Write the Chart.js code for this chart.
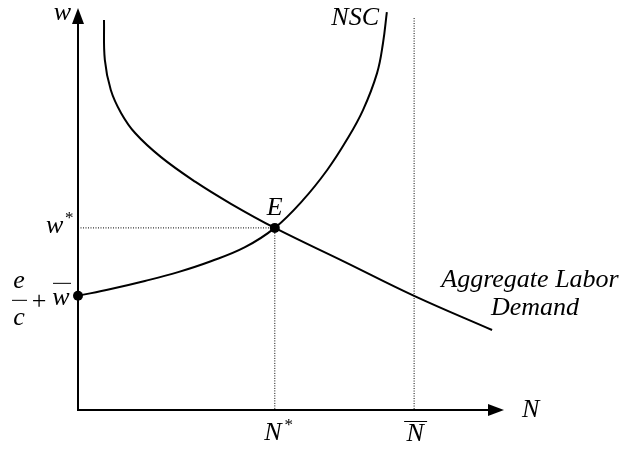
<!DOCTYPE html>
<html>
<head>
<meta charset="utf-8">
<script src="https://cdn.jsdelivr.net/npm/chart.js@4"></script>
<style>
  html, body { margin: 0; padding: 0; background: #fff; }
  #wrap { width: 621px; height: 449px; }
</style>
</head>
<body>
<div id="wrap"><canvas id="chart" width="621" height="449"></canvas></div>
<script>
// ======= Data =======
// aggregate labor demand: employment N vs wage w
const demandN = [0.61, 0.63, 0.77, 1.01, 1.34, 1.95, 2.75, 3.59, 4.62, 6.27, 7.89, 9.72];
const demandW = [9.70, 8.71, 7.96, 7.39, 6.89, 6.29, 5.68, 5.13, 4.53, 3.68, 2.84, 1.99];

// no-shirking condition
const nscN = [0, 0.77, 1.57, 2.35, 3.12, 3.92, 4.62, 5.28, 5.85, 6.31, 6.69, 7.02, 7.16, 7.25];
const nscW = [2.84, 3.01, 3.21, 3.43, 3.70, 4.05, 4.53, 5.22, 5.97, 6.72, 7.46, 8.38, 9.13, 9.90];

const eqN = 4.62;        // N*
const eqW = 4.53;        // w*
const wFloor = 2.84;     // e/c + w-bar
const laborForce = 7.89; // N-bar
const guideTop = 9.75;

const axisMaxN = 10;
const axisMaxW = 10;

const pts = (xs, ys) => xs.map((x, i) => ({ x, y: ys[i] }));

const FONT = "italic 26px 'Liberation Serif', 'Times New Roman', serif";
const PLAIN = "26px 'Liberation Serif', 'Times New Roman', serif";
const STAR = "17px 'Liberation Serif', 'Times New Roman', serif";

// ======= Axes + labels =======
const diagram = {
  id: "diagram",
  afterDatasetsDraw(chart) {
    const { ctx, scales: { x, y } } = chart;
    const ox = x.getPixelForValue(0), oy = y.getPixelForValue(0);
    const xEnd = x.getPixelForValue(axisMaxN), yEnd = y.getPixelForValue(axisMaxW);

    ctx.save();
    ctx.strokeStyle = "#000";
    ctx.fillStyle = "#000";
    ctx.lineWidth = 2;

    // axis lines
    ctx.beginPath();
    ctx.moveTo(ox, yEnd + 14);
    ctx.lineTo(ox, oy);
    ctx.lineTo(xEnd - 14, oy);
    ctx.stroke();

    // arrow heads
    ctx.beginPath();
    ctx.moveTo(ox, yEnd);
    ctx.lineTo(ox - 6, yEnd + 16);
    ctx.lineTo(ox + 6, yEnd + 16);
    ctx.closePath();
    ctx.fill();

    ctx.beginPath();
    ctx.moveTo(xEnd, oy);
    ctx.lineTo(xEnd - 16, oy - 6);
    ctx.lineTo(xEnd - 16, oy + 6);
    ctx.closePath();
    ctx.fill();

    // text
    ctx.font = FONT;
    ctx.textBaseline = "alphabetic";
    const ex = x.getPixelForValue(eqN), ey = y.getPixelForValue(eqW);
    const fy = y.getPixelForValue(wFloor);
    const bx = x.getPixelForValue(laborForce);

    ctx.textAlign = "right";
    ctx.fillText("w", ox - 7, 20);
    ctx.fillText("NSC", 379, 25);

    ctx.textAlign = "center";
    ctx.fillText("E", ex, ey - 13);

    // w*
    ctx.textAlign = "left";
    ctx.fillText("w", 46, ey + 5);
    ctx.font = STAR;
    ctx.fillText("*", 65, ey - 5);

    // e/c + w-bar
    ctx.font = FONT;
    ctx.textAlign = "center";
    ctx.fillText("e", 19, fy - 8);
    ctx.fillText("c", 19, fy + 29);
    ctx.lineWidth = 1;
    ctx.beginPath();
    ctx.moveTo(12, fy + 4.5);
    ctx.lineTo(27, fy + 4.5);
    ctx.stroke();
    ctx.font = PLAIN;
    ctx.fillText("+", 39, fy + 13);
    ctx.font = FONT;
    ctx.fillText("w", 61, fy + 9);
    ctx.beginPath();
    ctx.moveTo(53, fy - 12.5);
    ctx.lineTo(71, fy - 12.5);
    ctx.stroke();

    // N* and N-bar
    ctx.fillText("N", ex - 2, 440);
    ctx.font = STAR;
    ctx.fillText("*", ex + 14, 430);
    ctx.font = FONT;
    ctx.fillText("N", bx + 1, 441);
    ctx.beginPath();
    ctx.moveTo(bx - 10, 421.5);
    ctx.lineTo(bx + 13, 421.5);
    ctx.stroke();

    ctx.textAlign = "left";
    ctx.fillText("N", 522, 417);

    ctx.textAlign = "center";
    ctx.fillText("Aggregate Labor", 530, 287);
    ctx.fillText("Demand", 535, 315);

    ctx.restore();
  }
};

const curve = (data) => ({
  data,
  showLine: true,
  borderColor: "#000",
  borderWidth: 2,
  pointRadius: 0,
  tension: 0.4,
  fill: false
});

const guide = (data) => ({
  data,
  showLine: true,
  borderColor: "#000",
  borderWidth: 1,
  borderDash: [1, 1.5],
  pointRadius: 0,
  tension: 0
});

new Chart(document.getElementById("chart"), {
  type: "scatter",
  data: {
    datasets: [
      guide([{ x: 0, y: eqW }, { x: eqN, y: eqW }]),
      guide([{ x: eqN, y: eqW }, { x: eqN, y: 0 }]),
      guide([{ x: laborForce, y: guideTop }, { x: laborForce, y: 0 }]),
      curve(pts(demandN, demandW)),
      curve(pts(nscN, nscW)),
      {
        data: [{ x: 0, y: wFloor }, { x: eqN, y: eqW }],
        showLine: false,
        clip: false,
        pointRadius: 5,
        pointBackgroundColor: "#000",
        pointBorderWidth: 0
      }
    ]
  },
  options: {
    responsive: false,
    animation: false,
    layout: { padding: { left: 78, right: 117, top: 8, bottom: 39 } },
    plugins: { legend: { display: false }, tooltip: { enabled: false } },
    scales: {
      x: { type: "linear", min: 0, max: axisMaxN, display: false },
      y: { type: "linear", min: 0, max: axisMaxW, display: false }
    }
  },
  plugins: [diagram]
});
</script>
</body>
</html>
